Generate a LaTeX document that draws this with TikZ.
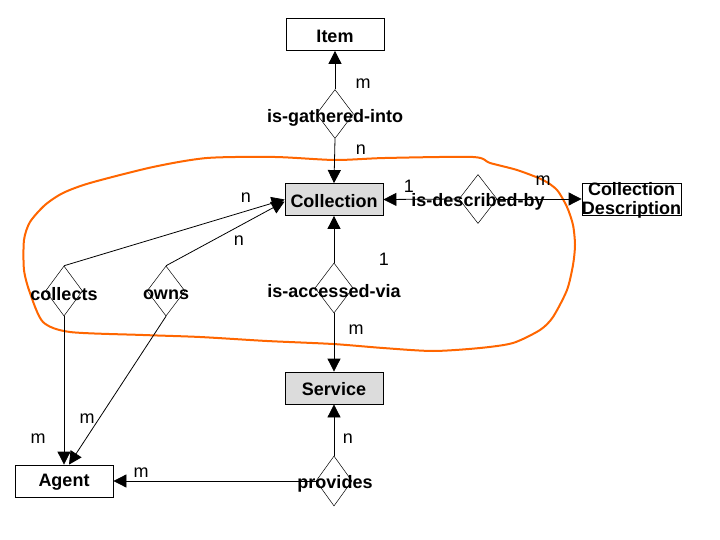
\documentclass[tikz,border=0pt]{standalone}
\usepackage{fontspec}
\setmainfont{Liberation Sans}
\usetikzlibrary{arrows.meta,shapes.geometric,calc}
\definecolor{boxgray}{RGB}{220,220,220}
\definecolor{loopcolor}{RGB}{255,102,0}
\tikzset{
  x=1pt, y=-1pt,
  ent/.style={draw, line width=0.8pt, minimum width=98pt, minimum height=32pt, inner sep=0pt},
  entg/.style={ent, fill=boxgray},
  rel/.style={draw, diamond, line width=0.5pt, inner sep=0pt, minimum width=37pt, minimum height=49pt},
  btext/.style={font=\fontsize{18}{19.5}\selectfont\bfseries, inner sep=0pt},
  card/.style={font=\fontsize{18}{20}\selectfont, inner sep=0pt},
  conn/.style={line width=0.8pt, -{Triangle[length=13pt,width=13pt]}},
}
\begin{document}
\begin{tikzpicture}
\useasboundingbox (0,0) rectangle (720,540);
% orange loop
\draw[draw=loopcolor, line width=2pt, smooth cycle, tension=0.45] plot coordinates {
 (90,183) (153,167) (207,158) (275,157) (335,160) (385,158) (473,157) (490,163)
 (517,170) (543,180) (557,190) (567,207) (573,225) (575,245) (573,265) (567,290)
 (553,317) (540,330) (513,343) (480,348) (433,351) (383,348) (333,344) (267,341)
 (200,337) (143,335) (70,332) (43,322) (30,293) (24,270) (24,240) (30,222)
 (45,205) (63,193)};
% entities
\node[ent] (item) at (335,34.5) {};
\node[btext] at (335,36) {Item};
\node[entg] (coll) at (334,199.5) {};
\node[btext] at (334,201) {Collection};
\node[ent, minimum width=99pt] (cdesc) at (631.5,199) {};
\node[btext, align=center] at (631.5,200.5) {Collection\\Description};
\node[entg] (serv) at (334,388) {};
\node[btext] at (334,389.5) {Service};
\node[ent] (agent) at (64,481) {};
\node[btext] at (64,482.5) {Agent};
% relationships
\node[rel] (gath) at (335,114) {};
\node[rel, minimum width=38pt] (desc) at (478,199) {};
\node[rel, minimum width=38pt, minimum height=50pt] (acc) at (334,288) {};
\node[rel, minimum width=36pt, minimum height=50pt] (prov) at (334,481) {};
\node[rel, minimum height=50pt] (colr) at (64,291) {};
\node[rel, minimum width=38pt, minimum height=50pt] (owns) at (166,291) {};
% connectors
\draw[conn] (gath.north) -- (item.south);
\draw[conn] (gath.south) -- (coll.north);
\draw[conn] (desc.west) -- (coll.east);
\draw[conn] (desc.east) -- (cdesc.west);
\draw[conn] (acc.north) -- (coll.south);
\draw[conn] (acc.south) -- (serv.north);
\draw[conn] (prov.north) -- (serv.south);
\draw[conn] (prov.west) -- (agent.east);
\draw[conn] (colr.north) -- (coll.west);
\draw[conn] (owns.north) -- ($(coll.west)+(0,2)$);
\draw[conn] (colr.south) -- (agent.north);
\draw[conn] (owns.south) -- ($(agent.north)+(5,0)$);
% relationship labels
\node[btext] at (335,117.5) {is-gathered-into};
\node[btext] at (478,201.5) {is-described-by};
\node[btext] at (334,291.5) {is-accessed-via};
\node[btext] at (335,483.5) {provides};
\node[btext] at (64,294.5) {collects};
\node[btext] at (166,294.5) {owns};
% cardinalities
\node[card] at (363,84) {m};
\node[card] at (361,150) {n};
\node[card] at (409,186) {1};
\node[card] at (543,181) {m};
\node[card] at (246,198) {n};
\node[card] at (239,241) {n};
\node[card] at (384,259) {1};
\node[card] at (356,330) {m};
\node[card] at (348,439) {n};
\node[card] at (141,473) {m};
\node[card] at (87,419) {m};
\node[card] at (38,439) {m};
\end{tikzpicture}
\end{document}
